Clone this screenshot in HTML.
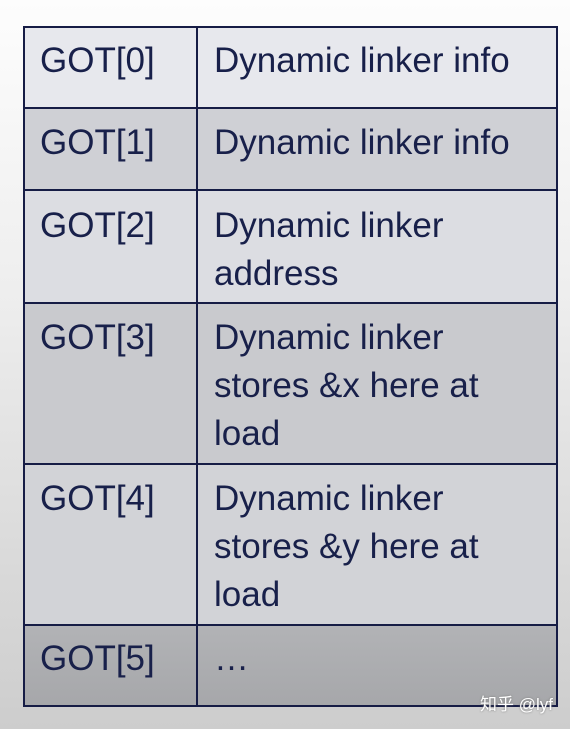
<!DOCTYPE html>
<html><head><meta charset="utf-8"><style>
html,body{margin:0;padding:0;}
body{width:570px;height:729px;position:relative;overflow:hidden;background:linear-gradient(#fdfdfd 0%,#eeeeee 40%,#d8d8d8 80%,#cdcdcd 100%);font-family:"Liberation Sans",Arial,sans-serif;}
.r{position:absolute;left:23px;width:535px;box-sizing:border-box;}
.t{position:absolute;font-size:35px;line-height:48px;color:#18204a;white-space:nowrap;}
.frame{position:absolute;left:23px;top:26px;width:535px;height:681px;box-sizing:border-box;border:2px solid #161c45;}
.h{position:absolute;left:23px;width:535px;height:2px;background:#161c45;}
.v{position:absolute;left:196px;top:26px;width:2px;height:681px;background:#161c45;}
.wm{position:absolute;left:480px;top:690px;font-size:17px;color:#fff;font-family:"Liberation Sans","Noto Sans CJK SC",sans-serif;text-shadow:0 0 2px #777;}
</style></head><body>
<div class="r" style="top:26px;height:82px;background:#e7e8ed"></div>
<div class="r" style="top:108px;height:82px;background:#cfd0d5"></div>
<div class="r" style="top:190px;height:113px;background:#dcdde2"></div>
<div class="r" style="top:303px;height:161px;background:#c9cace"></div>
<div class="r" style="top:464px;height:161px;background:#d2d3d7"></div>
<div class="r" style="top:625px;height:82px;background:linear-gradient(#b2b3b6,#a6a7aa)"></div>
<div class="frame"></div>
<div class="v"></div>
<div class="h" style="top:107px"></div>
<div class="h" style="top:189px"></div>
<div class="h" style="top:302px"></div>
<div class="h" style="top:463px"></div>
<div class="h" style="top:624px"></div>

<div class="t" style="left:40px;top:37px">GOT[0]</div>
<div class="t" style="left:214px;top:37px">Dynamic linker info</div>
<div class="t" style="left:40px;top:119px">GOT[1]</div>
<div class="t" style="left:214px;top:119px">Dynamic linker info</div>
<div class="t" style="left:40px;top:202px">GOT[2]</div>
<div class="t" style="left:214px;top:202px">Dynamic linker<br>address</div>
<div class="t" style="left:40px;top:314px">GOT[3]</div>
<div class="t" style="left:214px;top:314px">Dynamic linker<br>stores &amp;x here at<br>load</div>
<div class="t" style="left:40px;top:475px">GOT[4]</div>
<div class="t" style="left:214px;top:475px">Dynamic linker<br>stores &amp;y here at<br>load</div>
<div class="t" style="left:40px;top:635px">GOT[5]</div>
<div class="t" style="left:214px;top:635px">…</div>
<div class="wm">知乎 @lyf</div>
</body></html>
